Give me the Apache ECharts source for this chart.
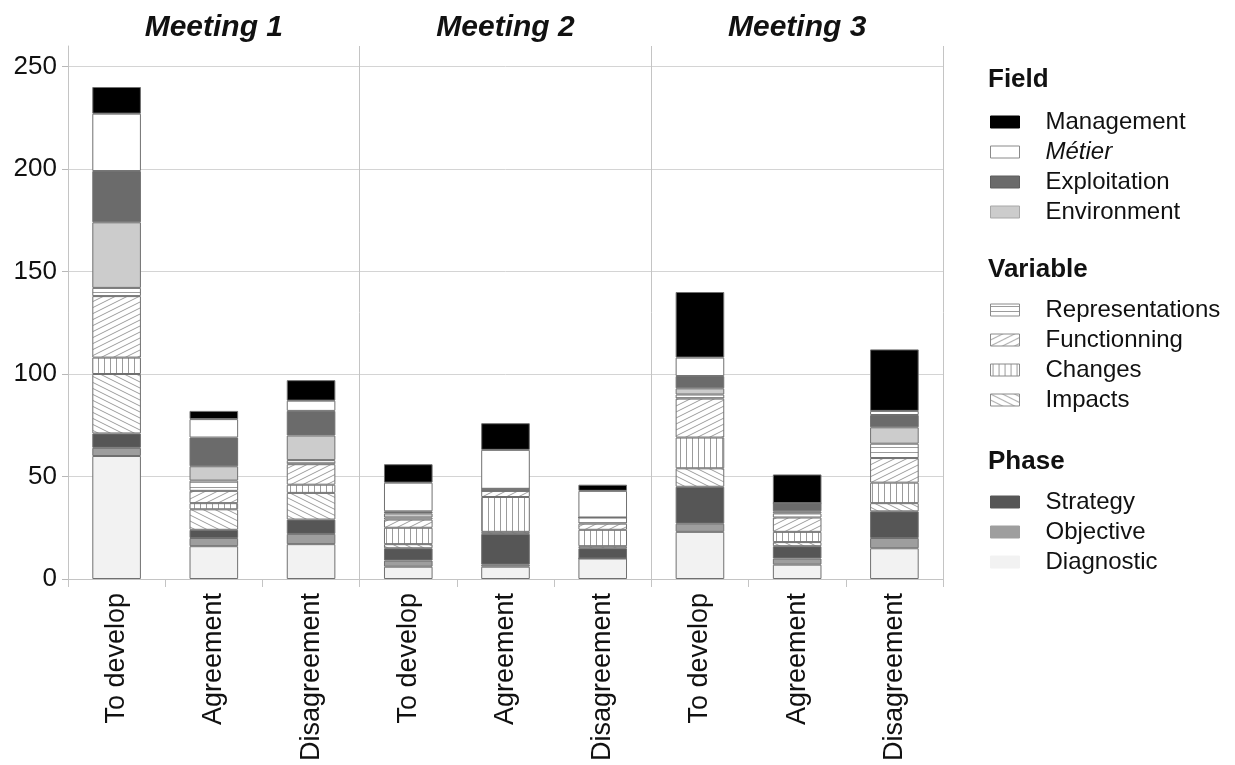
<!DOCTYPE html>
<html>
<head>
<meta charset="utf-8">
<script src="https://cdn.jsdelivr.net/npm/echarts@6/dist/echarts.min.js"></script>
<style>
html,body{margin:0;padding:0;background:#fff;}
#main{width:1235px;height:765px;}
</style>
</head>
<body>
<div id="main"></div>
<script>
// ---- data ----
var categories = ['To develop','Agreement','Disagreement','To develop','Agreement','Disagreement','To develop','Agreement','Disagreement'];
var meetings = ['Meeting 1','Meeting 2','Meeting 3'];
var yTicks = [0, 50, 100, 150, 200, 250];

var diagnostic      = [60, 16, 17,  6,  6, 10, 23,  7, 15];
var objective       = [ 4,  4,  5,  3,  1,  0,  4,  3,  5];
var strategy        = [ 7,  4,  7,  6, 15,  5, 18,  6, 13];
var impacts         = [29, 10, 13,  2,  1,  1,  9,  2,  4];
var changes         = [ 8,  3,  4,  8, 17,  8, 15,  5, 10];
var functionning    = [30,  6, 10,  4,  3,  3, 19,  7, 12];
var representations = [ 4,  5,  2,  1,  0,  3,  2,  2,  7];
var environment     = [32,  7, 12,  2,  1,  0,  3,  1,  8];
var exploitation    = [25, 14, 12,  1,  0,  0,  6,  4,  6];
var metier          = [28,  9,  5, 14, 19, 13,  9,  0,  2];
var management      = [13,  4, 10,  9, 13,  3, 32, 14, 30];

var fieldNames = ['Management','Métier','Exploitation','Environment'];
var variableNames = ['Representations','Functionning','Changes','Impacts'];
var phaseNames = ['Strategy','Objective','Diagnostic'];

// ---- patterns ----
function makePattern(type){
  var c = document.createElement('canvas');
  var w, h;
  if (type === 'h') { w = 4; h = 5; }
  else if (type === 'v') { w = 6; h = 4; }
  else { w = 12; h = 6; }
  c.width = w; c.height = h;
  var g = c.getContext('2d');
  g.fillStyle = '#ffffff';
  g.fillRect(0, 0, w, h);
  g.strokeStyle = '#9c9c9c';
  g.lineWidth = 1;
  g.beginPath();
  if (type === 'h') { g.moveTo(0, 2.5); g.lineTo(w, 2.5); }
  else if (type === 'v') { g.moveTo(2.5, 0); g.lineTo(2.5, h); }
  else if (type === 'fwd') {
    g.moveTo(-w, 2*h); g.lineTo(2*w, -h);
    g.moveTo(-2*w, 2*h); g.lineTo(w, -h);
    g.moveTo(0, 2*h); g.lineTo(3*w, -h);
  } else {
    g.moveTo(-w, -h); g.lineTo(2*w, 2*h);
    g.moveTo(-2*w, -h); g.lineTo(w, 2*h);
    g.moveTo(0, -h); g.lineTo(3*w, 2*h);
  }
  g.stroke();
  return { image: c, repeat: 'repeat' };
}

var seriesDefs = [
  { name: 'Diagnostic', data: diagnostic, color: '#f2f2f2', legendBorder: '#f2f2f2' },
  { name: 'Objective', data: objective, color: '#9e9e9e', legendBorder: '#9e9e9e' },
  { name: 'Strategy', data: strategy, color: '#565656', legendBorder: '#565656' },
  { name: 'Impacts', data: impacts, color: makePattern('back'), legendBorder: '#8a8a8a' },
  { name: 'Changes', data: changes, color: makePattern('v'), legendBorder: '#8a8a8a' },
  { name: 'Functionning', data: functionning, color: makePattern('fwd'), legendBorder: '#8a8a8a' },
  { name: 'Representations', data: representations, color: makePattern('h'), legendBorder: '#8a8a8a' },
  { name: 'Environment', data: environment, color: '#cccccc', legendBorder: '#a8a8a8' },
  { name: 'Exploitation', data: exploitation, color: '#6b6b6b', legendBorder: '#5e5e5e' },
  { name: 'Métier', data: metier, color: '#ffffff', legendBorder: '#8a8a8a' },
  { name: 'Management', data: management, color: '#000000', legendBorder: '#000000' }
];

var series = seriesDefs.map(function(d){
  return {
    name: d.name,
    type: 'bar',
    stack: 'total',
    barWidth: '50%',
    data: d.data,
    itemStyle: { color: d.color, borderColor: '#707070', borderWidth: 1 },
    emphasis: { disabled: true }
  };
});

function legendData(names){
  return names.map(function(n){
    var def = seriesDefs.filter(function(d){ return d.name === n; })[0];
    return { name: n, itemStyle: { borderColor: def.legendBorder, borderWidth: 1 } };
  });
}

var font = '"Liberation Sans", Arial, sans-serif';
var legendCommon = {
  orient: 'vertical',
  left: 985,
  itemWidth: 29,
  itemHeight: 12,
  itemGap: 6,
  icon: 'rect',
  selectedMode: false,
  formatter: function(n){ return n === 'Métier' ? '{i|' + n + '}' : n; },
  textStyle: {
    fontFamily: font, fontSize: 24, color: '#111', lineHeight: 24,
    padding: [0, 0, 0, 21],
    rich: { i: { fontStyle: 'italic', fontFamily: font, fontSize: 24, color: '#111' } }
  }
};

var chart = echarts.init(document.getElementById('main'), null, { renderer: 'canvas' });
chart.setOption({
  animation: false,
  backgroundColor: '#ffffff',
  title: [
    { text: 'Field', left: 983, top: 62, textStyle: { fontFamily: font, fontSize: 26, fontWeight: 'bold', color: '#111' } },
    { text: 'Variable', left: 983, top: 252, textStyle: { fontFamily: font, fontSize: 26, fontWeight: 'bold', color: '#111' } },
    { text: 'Phase', left: 983, top: 444, textStyle: { fontFamily: font, fontSize: 26, fontWeight: 'bold', color: '#111' } }
  ],
  legend: [
    Object.assign({}, legendCommon, { top: 105, data: legendData(fieldNames) }),
    Object.assign({}, legendCommon, { top: 293, data: legendData(variableNames) }),
    Object.assign({}, legendCommon, { top: 485, data: legendData(phaseNames) })
  ],
  grid: { left: 68, right: 292, top: 46, bottom: 186, containLabel: false },
  xAxis: [
    {
      type: 'category',
      data: categories,
      position: 'bottom',
      axisLine: { show: true, lineStyle: { color: '#c4c4c4', width: 1 } },
      axisTick: { show: true, interval: 0, length: 8, lineStyle: { color: '#c4c4c4' } },
      axisLabel: { interval: 0, rotate: 90, margin: 14, fontFamily: font, fontSize: 27, color: '#111' },
      splitLine: { show: true, interval: function(i){ return i % 3 === 0; }, lineStyle: { color: '#c4c4c4', width: 1 } }
    },
    {
      type: 'category',
      data: meetings,
      position: 'top',
      axisLine: { show: false },
      axisTick: { show: false },
      splitLine: { show: false },
      axisLabel: { interval: 0, margin: 3, fontFamily: font, fontSize: 30, fontWeight: 'bold', fontStyle: 'italic', color: '#111' }
    }
  ],
  yAxis: {
    type: 'value',
    min: yTicks[0],
    max: 260,
    interval: 50,
    axisLine: { show: true, lineStyle: { color: '#c4c4c4', width: 1 } },
    axisTick: { show: true, length: 6, customValues: yTicks, lineStyle: { color: '#b8b8b8' } },
    axisLabel: {
      margin: 11, fontFamily: font, fontSize: 26, color: '#111',
      formatter: function(v){ return yTicks.indexOf(v) >= 0 ? String(v) : ''; }
    },
    splitLine: { show: true, lineStyle: { color: ['#d4d4d4','#d4d4d4','#d4d4d4','#d4d4d4','#d4d4d4','#d4d4d4','rgba(0,0,0,0)'], width: 1 } }
  },
  series: series
});
</script>
</body>
</html>
